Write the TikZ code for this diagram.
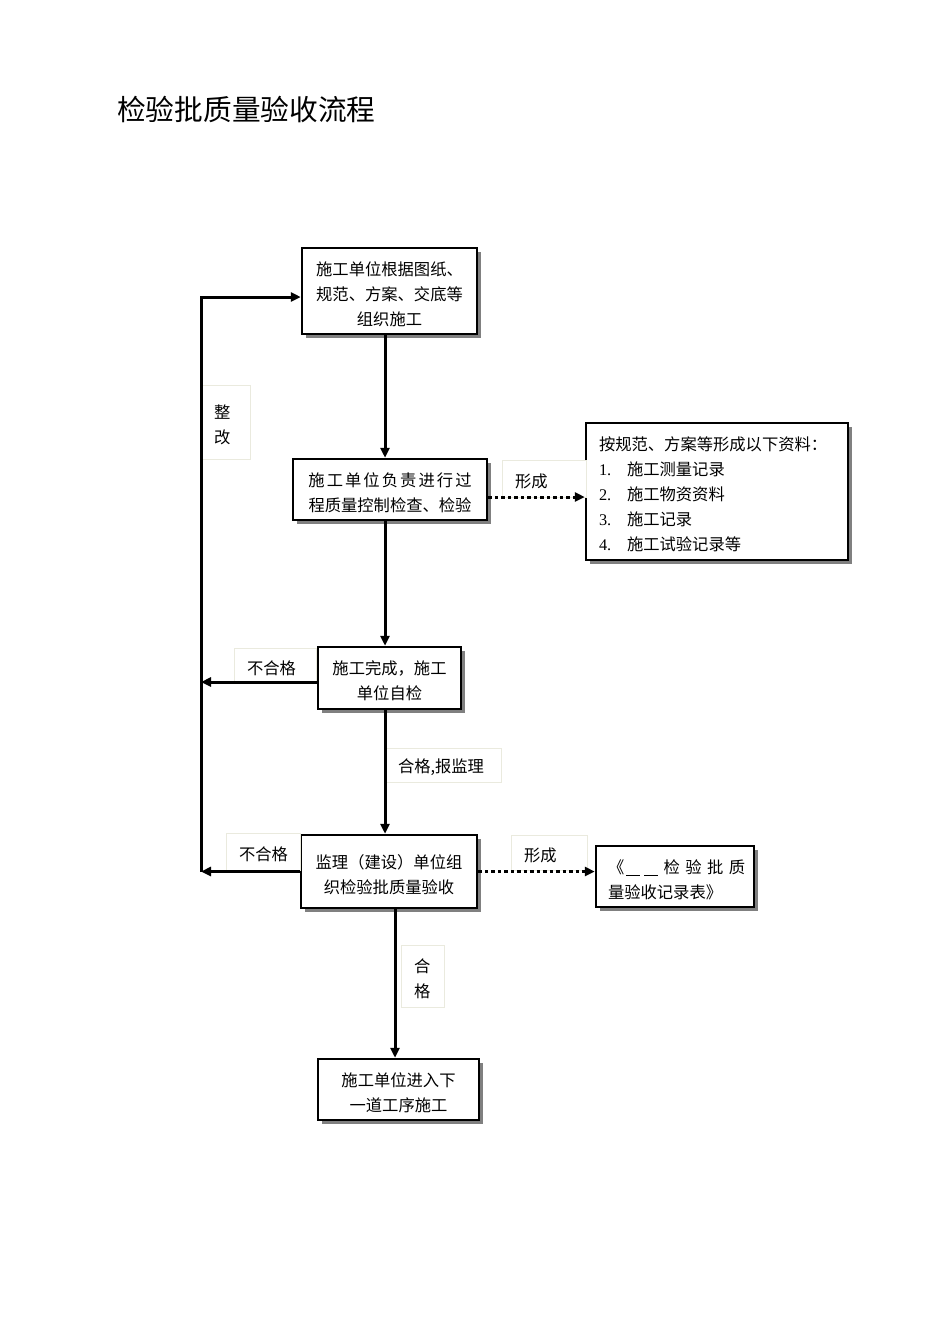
\documentclass[tikz,border=0pt]{standalone}
\usepackage{fontspec}
\setmainfont{Noto Sans CJK SC}
\newfontfamily\numfont{Liberation Serif}
\usetikzlibrary{arrows.meta,shadows}
\newcommand{\gp}{\hspace{2.05pt}}
\begin{document}
\begin{tikzpicture}[x=1pt,y=-1pt,
  mainbox/.style={draw=black, line width=2.5pt, fill=white, align=center, inner sep=0pt,
    font=\fontsize{16.3}{25}\selectfont, execute at begin node={\rule{0pt}{20pt}},
    drop shadow={shadow xshift=3.5pt, shadow yshift=-3.5pt, fill=black!50, opacity=1}},
  lbl/.style={draw={rgb,255:red,234;green,234;blue,222}, line width=0.8pt, fill=white,
    inner xsep=13pt, inner ysep=0pt, align=left, font=\fontsize{16.3}{25}\selectfont,
    execute at begin node={\rule{0pt}{19pt}}},
  conn/.style={line width=3pt, -{Triangle[length=10pt,width=9pt]}},
  dotconn/.style={line width=3pt, dash pattern=on 3.5pt off 3pt, -{Triangle[length=10pt,width=9pt]}},
]
\useasboundingbox (0,0) rectangle (950,1344);
\fill[white] (0,0) rectangle (950,1344);

\node[anchor=west, inner sep=0pt, font=\fontsize{28.7}{30}\selectfont] (title) at (117,110) {检验批质量验收流程};

% main boxes
\node[mainbox, minimum width=175pt, minimum height=86pt, text width=165pt] (b1) at (389.5,291)
  {施工单位根据图纸、\\规范、方案、交底等\\组织施工};
\node[mainbox, minimum width=194pt, minimum height=61pt, text width=185pt] (b2) at (390,489.5)
  {施\gp 工\gp 单\gp 位\gp 负\gp 责\gp 进\gp 行\gp 过\\程质量控制检查、检验};
\node[mainbox, minimum width=262pt, minimum height=137pt, align=left, inner xsep=13pt, text width=236pt] (r1) at (717,491.5)
  {按规范、方案等形成以下资料：\\
   \makebox[28pt][l]{\numfont 1.}施工测量记录\\
   \makebox[28pt][l]{\numfont 2.}施工物资资料\\
   \makebox[28pt][l]{\numfont 3.}施工记录\\
   \makebox[28pt][l]{\numfont 4.}施工试验记录等};
\node[mainbox, minimum width=143pt, minimum height=62pt, text width=135pt] (b3) at (389.5,678)
  {施工完成，施工\\单位自检};
\node[mainbox, minimum width=176pt, minimum height=73pt, text width=170pt] (b4) at (389,871.5)
  {监理（建设）单位组\\织检验批质量验收};
\node[mainbox, minimum width=158pt, minimum height=61pt, align=left, inner xsep=12pt, text width=134pt] (r2) at (675,876.5)
  {\makebox[130pt][s]{《\hspace{2pt}\rule[-2pt]{14pt}{0.8pt}\hspace{4pt}\rule[-2pt]{14pt}{0.8pt} 检 验 批 质}\\量验收记录表》};
\node[mainbox, minimum width=161pt, minimum height=61pt, text width=150pt] (b5) at (398.5,1089.5)
  {施工单位进入下\\一道工序施工};

% label boxes
\node[lbl, minimum height=74pt, text width=23pt] (zg) at (225.5,422) {整\\改};
\node[lbl, minimum height=35pt, text width=56pt] (nh1) at (275,665.5) {不合格};
\node[lbl, minimum height=37pt, text width=48pt] (nh2) at (263,851.5) {不合格};
\node[lbl, minimum height=34pt, text width=90pt] (hb) at (443,765) {合格,报监理};
\node[lbl, minimum height=62pt, text width=17pt, inner xsep=13pt] (hg) at (422.5,976) {合\\格};
\node[lbl, minimum height=37pt, text width=58pt] (xc1) at (544,478.5) {形成};
\node[lbl, minimum height=35pt, text width=50pt] (xc2) at (549,852.5) {形成};

% helper coordinates
\coordinate (vx) at (385,0);
\coordinate (vx2) at (395,0);
\coordinate (L1) at (201,297);
\coordinate (L2) at (201,871.5);
\coordinate (b3w) at ([yshift=-4pt]b3.west);
\coordinate (b2e) at ([yshift=-7.5pt]b2.east);

% main flow
\draw[conn] (b1.south -| vx) -- (b2.north -| vx);
\draw[conn] (b2.south -| vx) -- (b3.north -| vx);
\draw[conn] (b3.south -| vx) -- (b4.north -| vx);
\draw[conn] (b4.south -| vx2) -- (b5.north -| vx2);

% rework loop
\draw[conn] (b3w) -- (b3w -| L1);
\draw[conn] (b4.west) -- (L2);
\draw[conn] (L2) -- (L1) -- (L1 -| b1.west);

% dotted outputs
\draw[dotconn] (b2e) -- (b2e -| r1.west);
\draw[dotconn] (b4.east) -- (b4.east -| r2.west);
\end{tikzpicture}
\end{document}
